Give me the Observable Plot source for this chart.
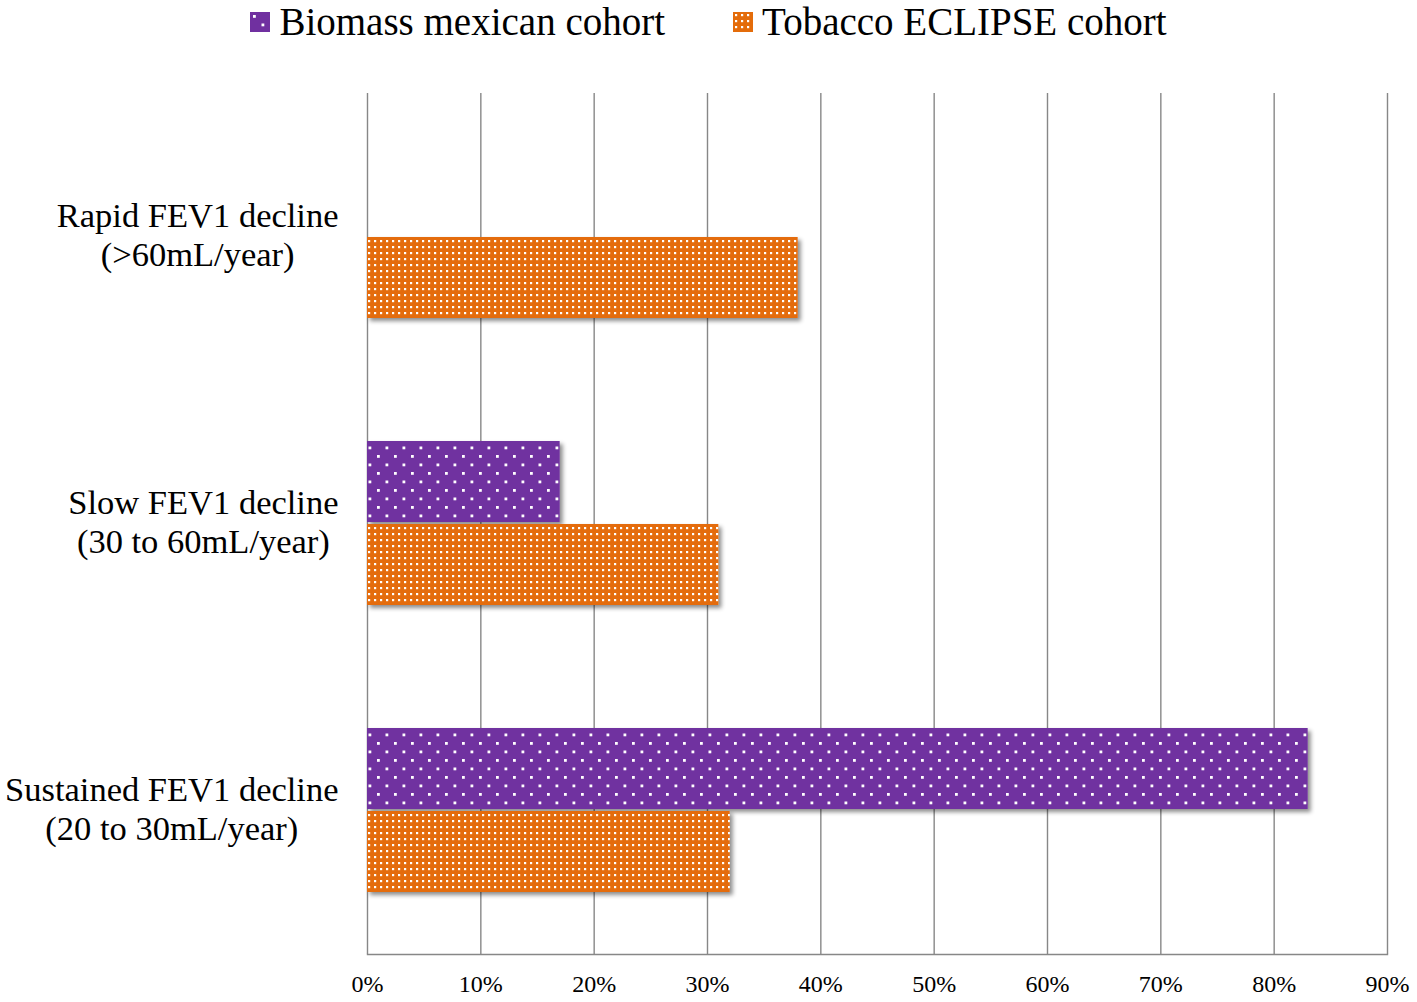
<!DOCTYPE html>
<html>
<head>
<meta charset="utf-8">
<script src="https://cdn.jsdelivr.net/npm/d3@7"></script>
<script src="https://cdn.jsdelivr.net/npm/@observablehq/plot@0.6"></script>
<style>
  html, body { margin: 0; padding: 0; background: #fff; }
  body { width: 1417px; height: 1002px; overflow: hidden; font-family: "Liberation Serif", "Times New Roman", serif; }
  #legend { height: 43px; display: flex; justify-content: center; align-items: center; font-size: 39px; color: #000; margin-bottom: 2px; }
  .item { display: flex; align-items: center; }
  .item + .item { margin-left: 68px; }
  .item svg { margin-right: 9px; }
  #chart g[aria-label="bar"] { filter: url(#shadow); }
</style>
</head>
<body>
<svg width="0" height="0" style="position:absolute">
  <defs>
    <pattern id="pPurple" patternUnits="userSpaceOnUse" width="17" height="17">
      <rect width="17" height="17" fill="#7030A0"/>
      <rect x="3" y="3" width="2.8" height="2.8" fill="#fff"/>
      <rect x="11.5" y="11.5" width="2.8" height="2.8" fill="#fff"/>
    </pattern>
    <pattern id="pOrange" patternUnits="userSpaceOnUse" width="6" height="6">
      <rect width="6" height="6" fill="#E46C0A"/>
      <rect x="2" y="2" width="2.2" height="2.2" fill="#fff"/>
    </pattern>
    <filter id="shadow" x="-5%" y="-10%" width="115%" height="130%">
      <feDropShadow dx="3" dy="3" stdDeviation="2" flood-color="#000" flood-opacity="0.45"/>
    </filter>
  </defs>
</svg>
<div id="legend"></div>
<div id="chart"></div>
<script>
const categories = [
  "Rapid FEV1 decline\n(>60mL/year)",
  "Slow FEV1 decline\n(30 to 60mL/year)",
  "Sustained FEV1 decline\n(20 to 30mL/year)"
];
const series = ["Biomass mexican cohort", "Tobacco ECLIPSE cohort"];
const biomass = [null, 17, 83];
const tobacco = [38, 31, 32];
const xTicks = [0, 10, 20, 30, 40, 50, 60, 70, 80, 90];
const fills = ["url(#pPurple)", "url(#pOrange)"];

const rows = [];
categories.forEach((c, i) => {
  if (biomass[i] != null) rows.push({category: c, series: series[0], value: biomass[i]});
  if (tobacco[i] != null) rows.push({category: c, series: series[1], value: tobacco[i]});
});

// legend
const legend = document.getElementById("legend");
series.forEach((s, i) => {
  const item = document.createElement("div");
  item.className = "item";
  item.innerHTML = `<svg width="20" height="20"><rect width="20" height="20" fill="${fills[i]}"/></svg><span>${s}</span>`;
  legend.appendChild(item);
});

const font = "Liberation Serif, Times New Roman, serif";
const chart = Plot.plot({
  width: 1417,
  height: 957,
  marginTop: 47,
  marginBottom: 47,
  marginLeft: 367,
  marginRight: 30,
  style: {fontFamily: font, background: "#fff", color: "#000"},
  x: {domain: [0, 90], axis: null},
  y: {domain: series, paddingInner: 0.02, paddingOuter: 0.73, axis: null},
  fy: {domain: categories, padding: 0, label: null, axis: null},
  color: {type: "identity"},
  marks: [
    Plot.gridX(xTicks, {stroke: "#878787", strokeOpacity: 1, strokeWidth: 1.4}),
    Plot.barX(rows, {
      x: "value",
      y: "series",
      fy: "category",
      fill: d => fills[series.indexOf(d.series)]
    }),
    Plot.frame({anchor: "bottom", facet: "super", stroke: "#878787", strokeWidth: 1.4}),
    Plot.axisX(xTicks, {
      tickSize: 0, tickPadding: 20, fontSize: 24, fontFamily: font, fill: "#000",
      tickFormat: d => d + "%", label: null
    }),
    Plot.axisFy({
      anchor: "left",
      tickSize: 0, tickPadding: 29, fontSize: 34.5, fontFamily: font, fill: "#000",
      lineHeight: 1.12, label: null, textAnchor: "end", dy: -3
    })
  ]
});
document.getElementById("chart").appendChild(chart);

// centre each line within its right-aligned label block
const svg = chart.tagName.toLowerCase() === "svg" ? chart : chart.querySelector("svg");
svg.querySelectorAll('g[aria-label^="fy-axis"] text').forEach(t => {
  const b = t.getBBox();
  t.setAttribute("text-anchor", "middle");
  t.querySelectorAll("tspan").forEach(ts => ts.setAttribute("x", b.x + b.width / 2));
});
</script>
</body>
</html>
